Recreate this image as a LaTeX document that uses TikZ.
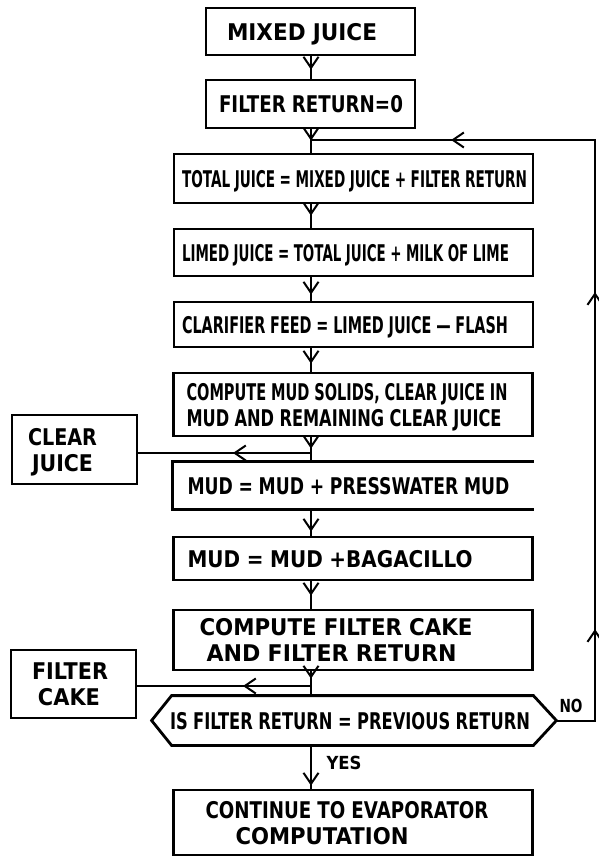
\documentclass[tikz,border=0pt]{standalone}
\usepackage{fontspec}
\setmainfont{DejaVu Sans}
\usetikzlibrary{arrows.meta,decorations.markings,calc}
\newcommand\fw[2]{\raisebox{0pt}[\height][0pt]{\resizebox{#1pt}{\height}{#2}}}
\tikzset{vtip/.tip={Straight Barb[length=11pt,width=15pt,line width=2pt]}}
\begin{document}
\begin{tikzpicture}[x=1pt,y=-1pt,
  boxline/.style={line width=2.8pt, line join=miter},
  box/.style={boxline, draw, inner xsep=0pt, inner ysep=0pt, align=left, font=\fontsize{23}{26}\selectfont\bfseries},
  bare/.style={box, draw=none},
  conn/.style={line width=2pt},
  tipat/.style={conn, postaction={decorate}, decoration={markings, mark=at position #1 with {\arrow{vtip}}}},
  lbl/.style={inner sep=0pt, font=\fontsize{18}{20}\selectfont\bfseries}]
\useasboundingbox (0,0) rectangle (599,856);

\coordinate (sp) at (311,0);
\coordinate (rx) at (595,0);
\coordinate (jt) at (311,140);
\coordinate (j1) at (311,453);
\coordinate (j2) at (311,686);

\node[box, text width=209pt, minimum height=47pt] (mj) at (310.5,31.5) {\hspace*{21pt}\fw{150}{MIXED JUICE}};
\node[box, text width=209pt, minimum height=48pt] (fr) at (310.5,104) {\hspace*{13pt}\fw{184}{FILTER RETURN=0}};
\node[box, text width=359pt, minimum height=49pt] (tj) at (353.5,178.5) {\hspace*{8pt}\fw{345}{TOTAL JUICE = MIXED JUICE + FILTER RETURN}};
\node[box, text width=359pt, minimum height=47pt] (lj) at (353.5,252.5) {\hspace*{8pt}\fw{327}{LIMED JUICE = TOTAL JUICE + MILK OF LIME}};
\node[box, text width=359pt, minimum height=45pt] (cf) at (353.5,324.5) {\hspace*{8pt}\fw{326}{CLARIFIER FEED = LIMED JUICE --- FLASH}};
\node[box, text width=359pt, minimum height=63pt] (cm) at (353,404.5) {\hspace*{13pt}\fw{321}{COMPUTE MUD SOLIDS, CLEAR JUICE IN}\\\hspace*{13pt}\fw{315}{MUD AND REMAINING CLEAR JUICE}};
\node[bare, text width=359pt, minimum height=45pt] (pw) at (353,485.5) {\hspace*{14pt}\fw{322}{MUD = MUD + PRESSWATER MUD}};
\draw[boxline] (pw.north east) -- (pw.north west) -- (pw.south west) -- (pw.south east);
\node[box, text width=359pt, minimum height=43pt] (bg) at (353,558.5) {\hspace*{14pt}\fw{285}{MUD = MUD +BAGACILLO}};
\node[box, text width=359pt, minimum height=60pt] (fc) at (353,640) {\hspace*{26pt}\fw{273}{COMPUTE FILTER CAKE}\\\hspace*{33pt}\fw{250}{AND FILTER RETURN}};
\node[bare, text width=359pt, minimum height=47pt] (hx) at (352.5,720.5) {\hspace*{-3pt}\fw{360}{IS FILTER RETURN = PREVIOUS RETURN}};
\draw[boxline] ($(hx.west)+(-20,0)$) -- (hx.north west) -- (hx.north east) -- ($(hx.east)+(23,0)$) -- (hx.south east) -- (hx.south west) -- cycle;
\coordinate (hxe) at ($(hx.east)+(23,0)$);
\node[box, text width=359pt, minimum height=65pt] (ct) at (353,822.5) {\hspace*{32pt}\fw{283}{CONTINUE TO EVAPORATOR}\\\hspace*{62pt}\fw{173}{COMPUTATION}};
\node[box, text width=125pt, minimum height=69pt] (cj) at (74.5,449.5) {\hspace*{16pt}\fw{69}{CLEAR}\\\hspace*{20pt}\fw{61}{JUICE}};
\node[box, text width=125pt, minimum height=68pt] (fk) at (73.5,684) {\hspace*{21pt}\fw{76}{FILTER}\\\hspace*{27pt}\fw{62}{CAKE}};
\node[lbl] (yes) at (344,763) {\fw{35}{YES}};
\node[lbl] (no) at (571,706) {\fw{23}{NO}};

\draw[tipat=-9pt] (mj.south -| sp) -- (fr.north -| sp);
\draw[tipat=-12pt] (fr.south -| sp) -- (tj.north -| sp);
\draw[tipat=-12pt] (tj.south -| sp) -- (lj.north -| sp);
\draw[tipat=-6pt] (lj.south -| sp) -- (cf.north -| sp);
\draw[tipat=-8pt] (cf.south -| sp) -- (cm.north -| sp);
\draw[tipat=-13pt] (cm.south -| sp) -- (pw.north -| sp);
\draw[tipat=-4pt] (pw.south -| sp) -- (bg.north -| sp);
\draw[tipat=-13pt] (bg.south -| sp) -- (fc.north -| sp);
\draw[tipat=-17pt] (fc.south -| sp) -- (hx.north -| sp);
\draw[tipat=-3pt] (hx.south -| sp) -- (ct.north -| sp);
\draw[tipat=78pt] (j1) -- (j1 -| cj.east);
\draw[tipat=68pt] (j2) -- (j2 -| fk.east);
\draw[conn, postaction={decorate}, decoration={markings,
    mark=at position 130pt with {\arrow{vtip}},
    mark=at position 467pt with {\arrow{vtip}},
    mark=at position 763pt with {\arrow{vtip}}}]
  (hxe) -- (hxe -| rx) |- (jt);
\end{tikzpicture}
\end{document}
